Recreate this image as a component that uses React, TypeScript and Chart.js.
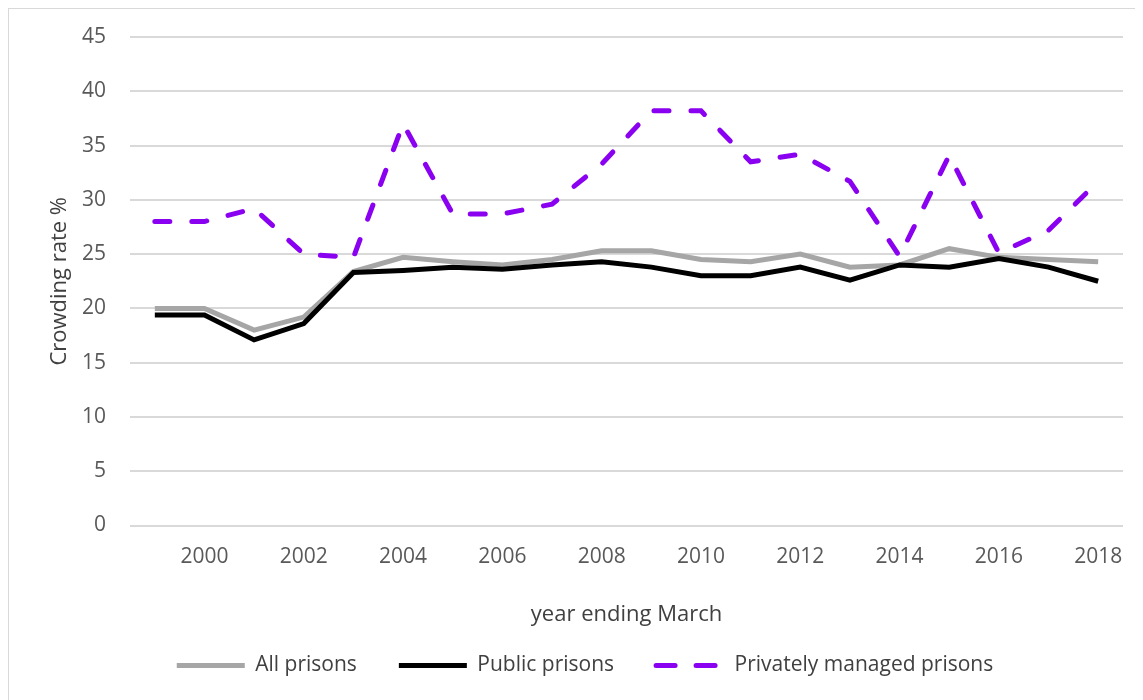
import React, { useEffect, useRef } from "react";
import { Chart, registerables } from "chart.js";

Chart.register(...registerables);

const years = ["1999","2000","2001","2002","2003","2004","2005","2006","2007","2008","2009","2010","2011","2012","2013","2014","2015","2016","2017","2018"];
const allPrisons = [20.0,20.0,18.0,19.2,23.4,24.7,24.3,24.0,24.5,25.3,25.3,24.5,24.3,25.0,23.8,24.0,25.5,24.7,24.5,24.3];
const publicPrisons = [19.4,19.4,17.1,18.6,23.3,23.5,23.8,23.6,24.0,24.3,23.8,23.0,23.0,23.8,22.6,24.0,23.8,24.6,23.8,22.5];
const privatePrisons = [28.0,28.0,29.2,25.0,24.7,37.0,28.7,28.7,29.6,33.3,38.2,38.2,33.5,34.2,31.7,24.8,34.1,25.1,27.2,31.7];
const seriesNames = ["All prisons", "Public prisons", "Privately managed prisons"];
const yTitle = "Crowding rate %";
const xTitle = "year ending March";

const FONT = "'Open Sans', 'Noto Sans', sans-serif";
const LEGEND_GAP = 42;
const LEGEND_VPAD = 10;
const SHIFT = LEGEND_GAP - LEGEND_VPAD;

const legendTweak = {
  id: "legendTweak",
  beforeLayout(chart: any) {
    const lg = chart.legend;
    if (!lg || lg.__tweaked) return;
    lg.__tweaked = true;
    const fit = lg.fit;
    lg.fit = function (this: any) {
      fit.call(this);
      this.height = Math.max(0, this.height - SHIFT);
    };
    const draw = lg.draw;
    lg.draw = function (this: any) {
      const t = this.top;
      const h = this.height;
      this.top = t - SHIFT;
      this.height = h + SHIFT;
      draw.call(this);
      this.top = t;
      this.height = h;
    };
  },
};

export default function App() {
  const ref = useRef<HTMLCanvasElement | null>(null);
  useEffect(() => {
    if (!ref.current) return;
    const chart = new Chart(ref.current, {
      type: "line",
      plugins: [legendTweak],
      data: {
        labels: years,
        datasets: [
          { label: seriesNames[0], data: allPrisons, borderColor: "#a6a6a6", backgroundColor: "#a6a6a6", borderWidth: 5, pointRadius: 0, tension: 0, order: 2 },
          { label: seriesNames[1], data: publicPrisons, borderColor: "#000000", backgroundColor: "#000000", borderWidth: 5, pointRadius: 0, tension: 0, order: 1 },
          { label: seriesNames[2], data: privatePrisons, borderColor: "#8a00f0", backgroundColor: "#8a00f0", borderWidth: 5, borderDash: [15, 22], borderCapStyle: "round", pointRadius: 0, tension: 0, order: 0 },
        ],
      },
      options: {
        animation: false,
        responsive: false,
        maintainAspectRatio: false,
        layout: { padding: { top: 10, right: 20, left: 38, bottom: 14 } },
        plugins: {
          tooltip: { enabled: false },
          legend: {
            position: "bottom",
            labels: {
              usePointStyle: true,
              pointStyle: "line",
              pointStyleWidth: 68,
              boxHeight: 5,
              padding: LEGEND_GAP,
              color: "#404040",
              font: { family: FONT, size: 21 },
              sort: (a: any, b: any) => a.datasetIndex - b.datasetIndex,
              generateLabels: (c: any) => {
                const items = (Chart as any).defaults.plugins.legend.labels.generateLabels(c);
                items.forEach((it: any) => {
                  const ds: any = c.data.datasets[it.datasetIndex];
                  it.lineWidth = 5;
                  it.strokeStyle = ds.borderColor;
                  it.lineDash = ds.borderDash ? [19, 21] : [];
                  it.lineCap = ds.borderDash ? "round" : "butt";
                });
                return items;
              },
            },
          },
        },
        scales: {
          x: {
            offset: true,
            grid: { display: false, drawTicks: false },
            border: { display: false },
            ticks: {
              color: "#595959",
              font: { family: FONT, size: 21 },
              maxRotation: 0,
              autoSkip: false,
              padding: 19,
              callback: function (this: any, v: any, i: number) {
                const lab = years[i];
                return Number(lab) % 2 === 0 ? lab : "";
              },
            },
            title: { display: true, text: xTitle, color: "#404040", font: { family: FONT, size: 22 }, padding: { top: 12.6, bottom: 17.3 } },
          },
          y: {
            min: 0,
            max: 45,
            afterFit: (scale: any) => { scale.width = 83; scale.paddingTop = 28; },
            ticks: { stepSize: 5, color: "#595959", font: { family: FONT, size: 21 }, padding: 24 },
            grid: { color: "#d9d9d9", lineWidth: 2, drawTicks: false },
            border: { display: false },
            title: { display: true, text: yTitle, color: "#404040", font: { family: FONT, size: 22 }, padding: { top: 0, bottom: 9 } },
          },
        },
      },
    });
    return () => chart.destroy();
  }, []);
  return (
    <div style={{ width: 1136, height: 693, borderLeft: "2px solid #d9d9d9", borderTop: "2px solid #d9d9d9", boxSizing: "border-box", background: "#fff", marginLeft: -1, marginTop: -1 }}>
      <canvas ref={ref} width={1134} height={691} style={{ display: "block" }} />
    </div>
  );
}
